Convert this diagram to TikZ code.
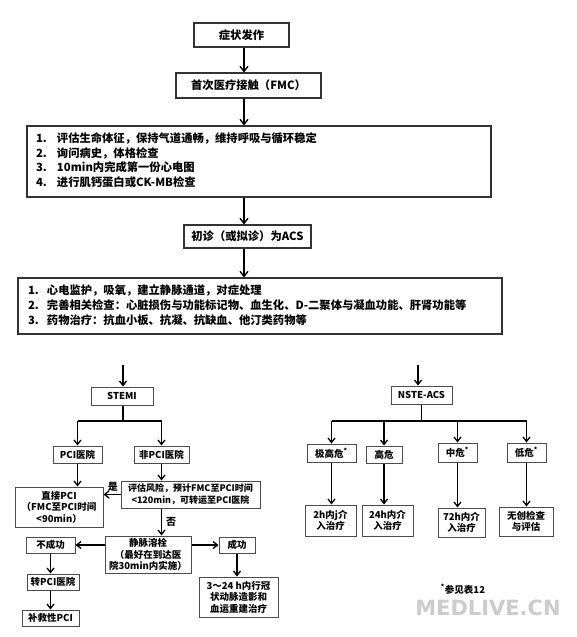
\documentclass[tikz,border=0pt]{standalone}
\usepackage{fontspec}
\setmainfont{Noto Sans CJK SC}
\newfontfamily\wmfont{DejaVu Sans}
\usetikzlibrary{arrows.meta}
\begin{document}
\begin{tikzpicture}[x=1pt,y=-1pt,
  box/.style={draw=black!80,line width=1.1pt,inner sep=0pt,align=center},
  sbox/.style={draw=black!70,line width=1pt,inner sep=0pt,align=center,font=\fontsize{9.5}{11.5}\selectfont\bfseries},
  topt/.style={font=\fontsize{11.3}{14.5}\selectfont\bfseries},
  arr/.style={line width=1.4pt,-{Straight Barb[length=5pt,width=8pt,line width=1.4pt]}},
  sarr/.style={line width=1.3pt,-{Straight Barb[length=4.5pt,width=7pt,line width=1.3pt]}},
  ln/.style={line width=1.3pt},
  lab/.style={font=\fontsize{10}{12}\selectfont\bfseries,inner sep=0pt}]
\useasboundingbox (0,0) rectangle (576,637);
% ---------------- top part ----------------
\coordinate (ax) at (244,0);
\node[box,topt,minimum width=95pt,minimum height=24pt] (n1) at (241.5,35) {症状发作};
\node[box,topt,minimum width=145pt,minimum height=25pt] (n2) at (248.5,85.5) {首次医疗接触（FMC）};
\node[box,topt,minimum width=464pt,minimum height=71pt,text width=446pt,align=left] (n3) at (259,161.5)
 {\begin{tabular}{@{}p{21pt}@{}l@{}}
 1. & 评估生命体征，保持气道通畅，维持呼吸与循环稳定\\
 2. & 询问病史，体格检查\\
 3. & 10min内完成第一份心电图\\
 4. & 进行肌钙蛋白或CK-MB检查
 \end{tabular}};
\node[box,topt,minimum width=127pt,minimum height=23pt] (n4) at (247.5,236.5) {初诊（或拟诊）为ACS};
\node[box,font=\fontsize{11.3}{15}\selectfont\bfseries,minimum width=484pt,minimum height=56pt,text width=464pt,align=left] (n5) at (260,306)
 {\begin{tabular}{@{}p{19pt}@{}l@{}}
 1. & 心电监护，吸氧，建立静脉通道，对症处理\\
 2. & 完善相关检查：心脏损伤与功能标记物、血生化、D-二聚体与凝血功能、肝肾功能等\\
 3. & 药物治疗：抗血小板、抗凝、抗缺血、他汀类药物等
 \end{tabular}};
\draw[arr] (n1.south -| ax) -- (n2.north -| ax);
\draw[arr] (n2.south -| ax) -- (n3.north -| ax);
\draw[arr] (n3.south -| ax) -- (n4.north -| ax);
\draw[arr] (n4.south -| ax) -- (n5.north -| ax);
% ---------------- STEMI ----------------
\coordinate (s0) at (123,365);
\coordinate (sj) at (123,421);
\node[sbox,minimum width=62pt,minimum height=18pt] (stemi) at (122,396) {STEMI};
\node[sbox,minimum width=49pt,minimum height=17pt] (pci) at (77.5,454.5) {PCI医院};
\node[sbox,minimum width=55pt,minimum height=17pt] (fpci) at (161.5,454.5) {非PCI医院};
\node[sbox,minimum width=88pt,minimum height=40pt] (zj) at (59,507) {直接PCI\\（FMC至PCI时间\\<90min）};
\node[sbox,minimum width=139pt,minimum height=27pt,font=\fontsize{9}{11.5}\selectfont\bfseries] (pg) at (190.5,494.5) {评估风险，预计FMC至PCI时间\\<120min，可转运至PCI医院};
\node[sbox,minimum width=86pt,minimum height=37pt] (jm) at (148,554.5) {静脉溶栓\\（最好在到达医\\院30min内实施）};
\node[sbox,minimum width=49pt,minimum height=16pt] (bcg) at (50.5,545) {不成功};
\node[sbox,minimum width=36pt,minimum height=16pt] (cg) at (237,545) {成功};
\node[sbox,minimum width=52pt,minimum height=16pt] (zpci) at (53,582) {转PCI医院};
\node[sbox,minimum width=57pt,minimum height=16pt] (bj) at (50.5,618) {补救性PCI};
\node[sbox,minimum width=79pt,minimum height=40pt] (gz) at (238.5,597) {3～24 h内行冠\\状动脉造影和\\血运重建治疗};
\draw[sarr] (s0) -- (stemi.north -| s0);
\draw[ln] (stemi.south -| sj) -- (sj);
\draw[ln] (pci.north |- sj) -- (fpci.north |- sj);
\draw[sarr] (pci.north |- sj) -- (pci.north);
\draw[sarr] (fpci.north |- sj) -- (fpci.north);
\draw[sarr] (pci.south) -- (pci.south |- zj.north);
\draw[sarr] (fpci.south) -- (fpci.south |- pg.north);
\draw[sarr] (pg.west) -- (pg.west -| zj.east) node[lab,pos=0.45,above=2pt] {是};
\draw[sarr] (pg.south -| fpci.south) -- (jm.north -| fpci.south) node[lab,midway,right=4pt] {否};
\draw[sarr] (jm.west |- bcg.east) -- (bcg.east);
\draw[sarr] (jm.east |- cg.west) -- (cg.west);
\draw[sarr] (bcg.south) -- (bcg.south |- zpci.north);
\draw[sarr] (zpci.south -| bj.north) -- (bj.north);
\draw[sarr] (cg.south) -- (cg.south |- gz.north);
% ---------------- NSTE-ACS ----------------
\coordinate (t0) at (418,365);
\coordinate (tj) at (421.5,421);
\node[sbox,minimum width=61pt,minimum height=18pt] (nste) at (421.5,395) {NSTE-ACS};
\node[sbox,minimum width=49pt,minimum height=18pt] (jg) at (331.5,453) {极高危\textsuperscript{*}};
\node[sbox,minimum width=36pt,minimum height=17pt] (gw) at (384,454.5) {高危};
\node[sbox,minimum width=39pt,minimum height=19pt] (zw) at (457.5,452.5) {中危\textsuperscript{*}};
\node[sbox,minimum width=39pt,minimum height=19pt] (dw) at (526.5,452.5) {低危\textsuperscript{*}};
\node[sbox,minimum width=51pt,minimum height=31pt] (r1) at (330.5,520.5) {2h内j介\\入治疗};
\node[sbox,minimum width=51pt,minimum height=31pt] (r2) at (387.5,520.5) {24h内介\\入治疗};
\node[sbox,minimum width=47pt,minimum height=29pt] (r3) at (461.5,522.5) {72h内介\\入治疗};
\node[sbox,minimum width=54pt,minimum height=29pt] (r4) at (526,521.5) {无创检查\\与评估};
\draw[sarr] (t0) -- (nste.north -| t0);
\draw[ln] (nste.south) -- (tj);
\draw[ln] (jg.north |- tj) -- (dw.north |- tj);
\draw[sarr] (jg.north |- tj) -- (jg.north);
\draw[sarr] (gw.north |- tj) -- (gw.north);
\draw[sarr] (zw.north |- tj) -- (zw.north);
\draw[sarr] (dw.north |- tj) -- (dw.north);
\draw[sarr] (jg.south) -- (jg.south |- r1.north);
\draw[sarr] (gw.south) -- (gw.south |- r2.north);
\draw[sarr] (zw.south) -- (zw.south |- r3.north);
\draw[sarr] (dw.south) -- (dw.south |- r4.north);
\node[lab,font=\fontsize{9.5}{11.5}\selectfont\bfseries] (note) at (463,589) {\textsuperscript{*}参见表12};
\node[lab,font=\wmfont\fontsize{21}{21}\selectfont\bfseries,text=black!20] (wm) at (488,608) {MEDLIVE.CN};
\end{tikzpicture}
\end{document}
